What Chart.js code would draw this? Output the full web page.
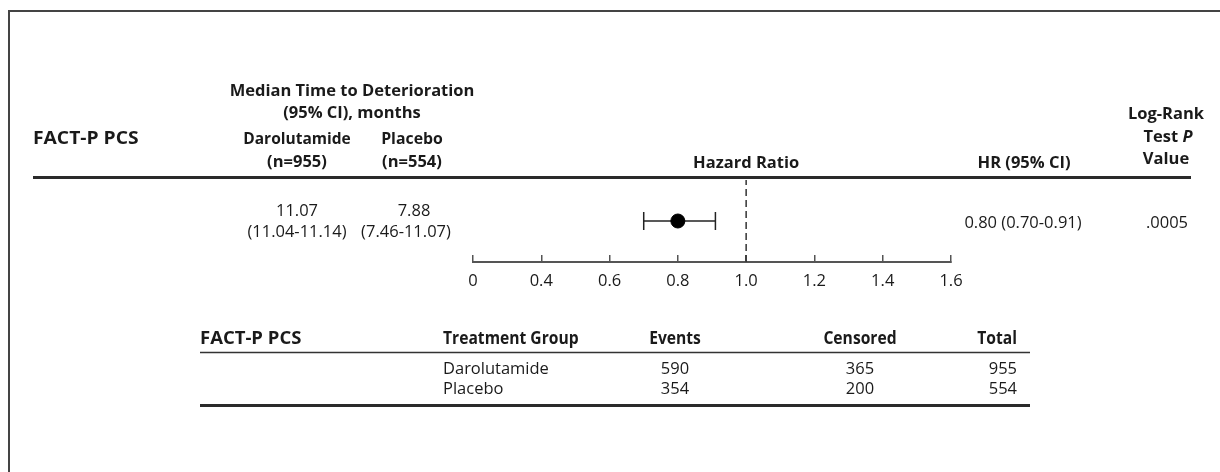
<!DOCTYPE html>
<html><head><meta charset="utf-8">
<script src="https://cdn.jsdelivr.net/npm/chart.js@4"></script>
<style>html,body{margin:0;padding:0;background:#fff}#wrap{width:1220px;height:472px;position:relative}</style>
</head><body><div id="wrap"><canvas id="c" width="1220" height="472"></canvas></div>
<script>
// ---- data ----
const endpoint = 'FACT-P PCS';
const groups = ['Darolutamide', 'Placebo'];
const groupN = [955, 554];
const medianTime = ['11.07', '7.88'];
const medianCI = ['(11.04-11.14)', '(7.46-11.07)'];
const hrPoint = [0.80];
const hrCI = [0.70, 0.91];
const hrText = ['0.80 (0.70-0.91)'];
const pValue = ['.0005'];
const refLine = [1.0];
const tickValues = [0.2, 0.4, 0.6, 0.8, 1.0, 1.2, 1.4, 1.6];
const tickLabels = ['0', '0.4', '0.6', '0.8', '1.0', '1.2', '1.4', '1.6'];
const events = [590, 354];
const censored = [365, 200];
const totals = [955, 554];

const FONT = '"Open Sans", "Noto Sans", sans-serif';
const ROW_Y = 0.5;

const textPlugin = {
  id: 'textPlugin',
  afterDraw(chart) {
    const ctx = chart.ctx;
    ctx.save();
    // frame
    ctx.strokeStyle = '#444'; ctx.lineWidth = 2;
    ctx.beginPath(); ctx.moveTo(9, 472); ctx.lineTo(9, 11); ctx.lineTo(1220, 11); ctx.stroke();
    // header rule
    ctx.strokeStyle = '#2a2a2a'; ctx.lineWidth = 3;
    ctx.beginPath(); ctx.moveTo(33, 177.5); ctx.lineTo(1191, 177.5); ctx.stroke();

    const txt = (s, x, y, align, weight, size, sx) => {
      ctx.font = `${weight} ${size}px ${FONT}`;
      ctx.textAlign = align; ctx.textBaseline = 'middle';
      ctx.fillStyle = '#1a1a1a';
      if (sx && sx !== 1) {
        ctx.save(); ctx.translate(x, y); ctx.scale(sx, 1); ctx.fillText(s, 0, 0); ctx.restore();
      } else ctx.fillText(s, x, y);
    };
    const B = 'bold', R = 'normal', S = 16.5;
    txt('Median Time to Deterioration', 352, 91, 'center', B, S);
    txt('(95% CI), months', 352, 113, 'center', B, S);
    txt(endpoint, 33, 139, 'left', B, 18, 1.07);
    txt(groups[0], 297, 139, 'center', B, S, 0.94);
    txt(`(n=${groupN[0]})`, 297, 162, 'center', B, S);
    txt(groups[1], 412, 139, 'center', B, S, 0.96);
    txt(`(n=${groupN[1]})`, 412, 162, 'center', B, S);
    txt('Hazard Ratio', chart.scales.x.getPixelForValue(refLine[0]), 163, 'center', B, S);
    txt('HR (95% CI)', 1024, 163, 'center', B, S);
    txt('Log-Rank', 1166, 114, 'center', B, S);
    // Test P (italic P)
    ctx.font = `bold ${S}px ${FONT}`;
    const w1 = ctx.measureText('Test ').width;
    ctx.font = `italic bold ${S}px ${FONT}`;
    const w2 = ctx.measureText('P').width;
    const x0 = 1168 - (w1 + w2) / 2;
    txt('Test ', x0, 137, 'left', B, S);
    txt('P', x0 + w1, 137, 'left', 'italic bold', S);
    txt('Value', 1166, 159, 'center', B, S);

    // data row
    txt(medianTime[0], 297, 211, 'center', R, S);
    txt(medianCI[0], 297, 232, 'center', R, S);
    txt(medianTime[1], 414, 211, 'center', R, S);
    txt(medianCI[1], 406, 232, 'center', R, S);
    txt(hrText[0], 1023, 223, 'center', R, S);
    txt(pValue[0], 1188, 223, 'right', R, S);

    // lower table
    const CB = 0.92, CR = 0.97, T = 17;
    txt(endpoint, 200, 339, 'left', B, 18.5, 1.0);
    txt('Treatment Group', 443, 339, 'left', B, T, CB);
    txt('Events', 675, 339, 'center', B, T, CB);
    txt('Censored', 860, 339, 'center', B, T, CB);
    txt('Total', 1017, 339, 'right', B, T, CB);
    ctx.strokeStyle = '#333'; ctx.lineWidth = 1.5;
    ctx.beginPath(); ctx.moveTo(200, 352.5); ctx.lineTo(1030, 352.5); ctx.stroke();
    groups.forEach((g, i) => {
      const y = 369 + i * 20;
      txt(g, 443, y, 'left', R, T, CR);
      txt(String(events[i]), 675, y, 'center', R, T, CR);
      txt(String(censored[i]), 860, y, 'center', R, T, CR);
      txt(String(totals[i]), 1017, y, 'right', R, T, CR);
    });
    ctx.strokeStyle = '#2a2a2a'; ctx.lineWidth = 3;
    ctx.beginPath(); ctx.moveTo(200, 405.5); ctx.lineTo(1030, 405.5); ctx.stroke();
    ctx.restore();
  }
};

new Chart(document.getElementById('c'), {
  type: 'scatter',
  data: {
    datasets: [
      { label: 'HR', order: 0, data: hrPoint.map(v => ({ x: v, y: ROW_Y })),
        pointRadius: 7, pointBackgroundColor: '#000', pointBorderColor: '#000', pointBorderWidth: 1 },
      { label: 'CI', order: 1, data: hrCI.map(v => ({ x: v, y: ROW_Y })), showLine: true,
        borderColor: '#222', borderWidth: 1.5, pointStyle: 'line', rotation: 90,
        pointRadius: 9, pointBorderWidth: 1.5, pointBorderColor: '#222' },
      { label: 'ref', order: 2, data: [{ x: refLine[0], y: 0 }, { x: refLine[0], y: 1 }], showLine: true,
        borderColor: '#333', borderWidth: 1.5, borderDash: [7, 4], pointRadius: 0 }
    ]
  },
  options: {
    responsive: false,
    devicePixelRatio: 1,
    animation: false,
    events: [],
    layout: { padding: { left: 473, right: 269, top: 180, bottom: 0 } },
    plugins: { legend: { display: false }, tooltip: { enabled: false } },
    scales: {
      x: {
        type: 'linear', min: 0.2, max: 1.6,
        afterBuildTicks: s => { s.ticks = tickValues.map(v => ({ value: v })); },
        afterFit: s => { s.height = 210; },
        ticks: { autoSkip: false, maxRotation: 0, padding: 16, color: '#1a1a1a',
          font: { family: FONT, size: 16.5 }, callback: (v, i) => tickLabels[i] },
        grid: { drawOnChartArea: false, drawTicks: true, tickLength: -7, color: '#555', lineWidth: 1.5 },
        border: { display: true, color: '#555', width: 2 }
      },
      y: { type: 'linear', min: 0, max: 1, display: false }
    }
  },
  plugins: [textPlugin]
});
</script></body></html>
